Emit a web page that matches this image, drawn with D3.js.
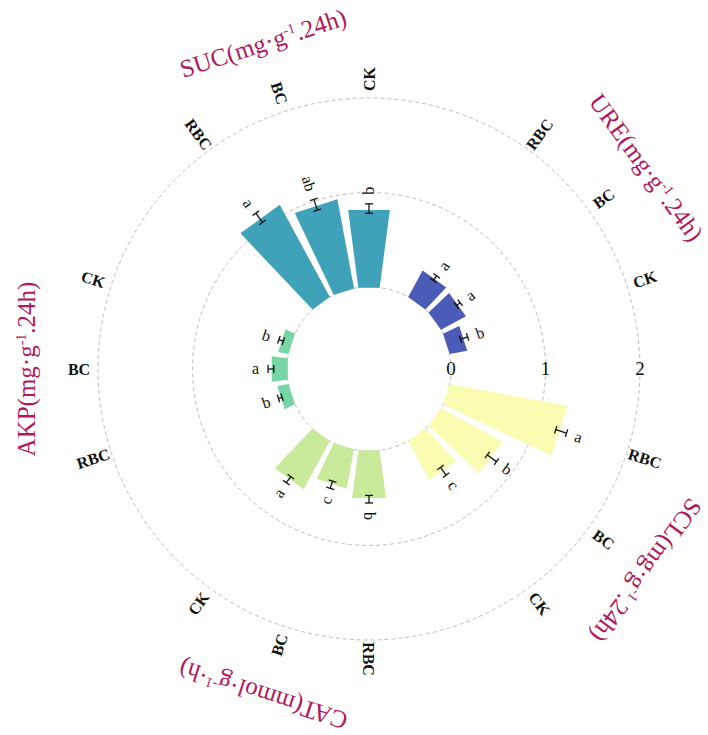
<!DOCTYPE html>
<html>
<head>
<meta charset="utf-8">
<script src="https://cdn.jsdelivr.net/npm/d3@7"></script>
<style>
  body { margin: 0; background: #fff; }
  svg { display: block; }
</style>
</head>
<body>
<div id="chart"></div>
<script>
// groups clockwise starting at the upper right
var groups = ["URE", "SCL", "CAT", "AKP", "SUC"]
var treatments = ["RBC", "BC", "CK"]

var titleHead = ["URE(mg·g", "SCL(mg·g", "CAT(mmol·g", "AKP(mg·g", "SUC(mg·g"]
var titleSup = ["-1", "-1", "-1", "-1", "-1"]
var titleTail = [".24h)", ".24h)", "·h)", ".24h)", ".24h)"]

// means, in treatment order RBC, BC, CK
var ureMean = [0.32, 0.30, 0.19]
var sclMean = [1.27, 0.74, 0.47]
var catMean = [0.51, 0.42, 0.58]
var akpMean = [0.12, 0.17, 0.11]
var sucMean = [1.11, 0.96, 0.83]

var ureErr = [0.03, 0.025, 0.04]
var sclErr = [0.06, 0.06, 0.05]
var catErr = [0.04, 0.04, 0.04]
var akpErr = [0.02, 0.03, 0.025]
var sucErr = [0.06, 0.06, 0.05]

var ureSig = ["a", "a", "b"]
var sclSig = ["a", "b", "c"]
var catSig = ["b", "c", "a"]
var akpSig = ["b", "a", "b"]
var sucSig = ["a", "ab", "b"]

var radialTicks = [0, 1, 2]

var colors = ["#4b5cb8", "#fafcb2", "#c9e99b", "#78d6a6", "#3fa2b8"]

var means = [ureMean, sclMean, catMean, akpMean, sucMean]
var errs = [ureErr, sclErr, catErr, akpErr, sucErr]
var sigs = [ureSig, sclSig, catSig, akpSig, sucSig]

var width = 708, height = 735
var cx = 369, cy = 369
var labelR = 290, titleR = 343

var svg = d3.select("#chart").append("svg")
  .attr("width", width)
  .attr("height", height)
  .style("font-family", "'Liberation Serif', 'Times New Roman', serif")

var g = svg.append("g").attr("transform", `translate(${cx},${cy})`)

// one empty slot after each group
var slots = []
var rows = []
groups.forEach((grp, gi) => {
  treatments.forEach((t, ti) => {
    slots.push(grp + "-" + t)
    rows.push({ group: grp, gi: gi, treatment: t, value: means[gi][ti], err: errs[gi][ti], sig: sigs[gi][ti] })
  })
  slots.push("gap-" + grp)
})

var deg = Math.PI / 180
var start = 27 * deg
var angle = d3.scaleBand()
  .domain(slots)
  .range([start, start + 2 * Math.PI])
  .paddingInner(0.17)
  .paddingOuter(0.085)

var r = d3.scaleLinear()
  .domain([0, 2])
  .range([82, 271])

function pt(a, rad) {
  return [rad * Math.sin(a), -rad * Math.cos(a)]
}
function mid(key) {
  return angle(key) + angle.bandwidth() / 2
}
function readable(a) {
  var d = a / deg % 360
  return d <= 180 ? d - 90 : d + 90
}

// grid circles
g.selectAll(".grid")
  .data(radialTicks)
  .enter()
  .append("circle")
  .attr("r", d => r(d))
  .attr("fill", "none")
  .attr("stroke", "#b4b4b4")
  .attr("stroke-width", 0.9)
  .attr("stroke-dasharray", "4,3")

// bars
var line = d3.line()
g.selectAll(".bar")
  .data(rows)
  .enter()
  .append("path")
  .attr("class", "bar")
  .attr("d", d => {
    var key = d.group + "-" + d.treatment
    var a0 = angle(key), a1 = a0 + angle.bandwidth()
    return line([pt(a0, r(0)), pt(a0, r(d.value)), pt(a1, r(d.value)), pt(a1, r(0))]) + "Z"
  })
  .attr("fill", d => colors[d.gi])

// error bars
var eb = g.selectAll(".err")
  .data(rows)
  .enter()
  .append("g")
  .attr("class", "err")
  .attr("transform", d => `rotate(${mid(d.group + "-" + d.treatment) / deg})`)
  .attr("stroke", "#111")
  .attr("stroke-width", 1.3)

eb.append("line")
  .attr("x1", 0).attr("x2", 0)
  .attr("y1", d => -r(d.value - d.err))
  .attr("y2", d => -r(d.value + d.err))
eb.append("line")
  .attr("x1", -4).attr("x2", 4)
  .attr("y1", d => -r(d.value - d.err))
  .attr("y2", d => -r(d.value - d.err))
eb.append("line")
  .attr("x1", -4).attr("x2", 4)
  .attr("y1", d => -r(d.value + d.err))
  .attr("y2", d => -r(d.value + d.err))

// significance letters
g.selectAll(".sig")
  .data(rows)
  .enter()
  .append("text")
  .attr("class", "sig")
  .attr("transform", d => {
    var a = mid(d.group + "-" + d.treatment)
    var p = pt(a, r(d.value + d.err) + 9)
    return `translate(${p[0]},${p[1]}) rotate(${readable(a)})`
  })
  .attr("text-anchor", d => mid(d.group + "-" + d.treatment) / deg % 360 <= 180 ? "start" : "end")
  .attr("dy", "0.33em")
  .style("font-size", "16px")
  .attr("fill", "#111")
  .text(d => d.sig)

// treatment labels outside the outer ring
g.selectAll(".cat")
  .data(rows)
  .enter()
  .append("text")
  .attr("class", "cat")
  .attr("transform", d => {
    var a = mid(d.group + "-" + d.treatment)
    var p = pt(a, labelR)
    return `translate(${p[0]},${p[1]}) rotate(${readable(a)})`
  })
  .attr("text-anchor", "middle")
  .attr("dy", "0.35em")
  .style("font-size", "16px")
  .style("font-weight", "bold")
  .attr("fill", "#111")
  .text(d => d.treatment)

// radial tick labels in the empty slot after URE
var tickAngle = mid("gap-URE")
g.selectAll(".tick")
  .data(radialTicks)
  .enter()
  .append("text")
  .attr("x", d => pt(tickAngle, r(d))[0])
  .attr("y", d => pt(tickAngle, r(d))[1])
  .attr("dy", "0.3em")
  .attr("text-anchor", "middle")
  .style("font-size", "19px")
  .attr("fill", "#111")
  .text(d => d)

// group titles, tangent to the ring, tops facing out
groups.forEach((grp, gi) => {
  var a = mid(grp + "-BC")
  var p = pt(a, titleR)
  var t = g.append("text")
    .attr("transform", `translate(${p[0]},${p[1]}) rotate(${a / deg})`)
    .attr("text-anchor", "middle")
    .attr("dy", "0.35em")
    .style("font-size", "25px")
    .attr("fill", "#b0185c")
  t.append("tspan").text(titleHead[gi])
  t.append("tspan").attr("dy", -9).style("font-size", "14px").text(titleSup[gi])
  t.append("tspan").attr("dy", 9).text(titleTail[gi])
})
</script>
</body>
</html>
